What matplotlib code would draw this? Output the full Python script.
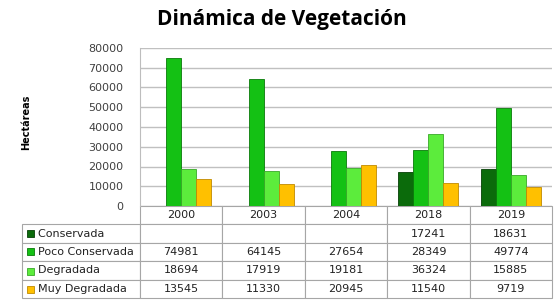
import numpy as np
import matplotlib.pyplot as plt
from matplotlib.patches import Rectangle

years = ["2000", "2003", "2004", "2018", "2019"]
series = ["Conservada", "Poco Conservada", "Degradada", "Muy Degradada"]
conservada = [np.nan, np.nan, np.nan, 17241, 18631]
poco_conservada = [74981, 64145, 27654, 28349, 49774]
degradada = [18694, 17919, 19181, 36324, 15885]
muy_degradada = [13545, 11330, 20945, 11540, 9719]
yticks = [0, 10000, 20000, 30000, 40000, 50000, 60000, 70000, 80000]

colors = ["#0b6b0b", "#14c114", "#5cec3c", "#ffc000"]
edges = ["#064006", "#0a7a0a", "#38a828", "#c08a00"]

W, H = 559, 308
fig = plt.figure(figsize=(W / 100, H / 100), dpi=100)
fig.patch.set_facecolor("white")

# plot area in pixels: x 140..552, y 48..206 (from top)
ax = fig.add_axes([140 / W, 1 - 206 / H, 412 / W, 158 / H])

values = [conservada, poco_conservada, degradada, muy_degradada]
x = np.arange(len(years))
bw = 0.182
for i, vals in enumerate(values):
    ax.bar(x + (i - 1.5) * bw, vals, width=bw, color=colors[i],
           edgecolor=edges[i], linewidth=0.6, zorder=3)

ax.set_xlim(-0.5, len(years) - 0.5)
ax.set_ylim(0, 80000)
ax.set_yticks(yticks)
ax.set_yticklabels([str(v) for v in yticks], fontsize=8, color="#404040")
ax.set_xticks([])
ax.tick_params(axis="y", length=0, pad=12)
ax.grid(axis="y", color="#c0c0c0", linewidth=1, zorder=0)
for s in ["top", "right", "bottom"]:
    ax.spines[s].set_visible(False)
ax.spines["left"].set_color("#bdbdbd")

fig.text(26 / W, 1 - 122 / H, "Hectáreas", rotation=90, ha="center",
         va="center", fontsize=7, fontweight="bold")

fig.text(282 / W, 1 - 20 / H, "Dinámica de Vegetación", ha="center",
         va="center", fontsize=15, fontweight="bold", family="Open Sans")

# data table under the chart
cell_text = [[""] + years]
for name, vals in zip(series, values):
    row = ["    " + name]
    for v in vals:
        row.append("" if np.isnan(v) else str(int(v)))
    cell_text.append(row)

tab = ax.table(cellText=cell_text, colWidths=[118] + [82.4] * 5,
               bbox=[-118 / 412, -92 / 158, 530 / 412, 92 / 158],
               cellLoc="center")
tab.auto_set_font_size(False)
for (r, c), cell in tab.get_celld().items():
    cell.set_edgecolor("#a6a6a6")
    cell.set_linewidth(0.8)
    cell.get_text().set_fontsize(8)
    cell.get_text().set_color("#222222")
    if c == 0:
        cell.get_text().set_ha("left")
        cell.PAD = 0.02
    if r == 0 and c == 0:
        cell.visible_edges = ""

# legend keys in the row label cells
row_centers = [233, 251.5, 271, 289]
for yc, col, ed in zip(row_centers, colors, edges):
    fig.patches.append(Rectangle((27 / W, 1 - (yc + 3.5) / H), 7 / W, 7 / H,
                                 transform=fig.transFigure, facecolor=col,
                                 edgecolor=ed, linewidth=0.6))

fig.savefig("out.png", dpi=100)
